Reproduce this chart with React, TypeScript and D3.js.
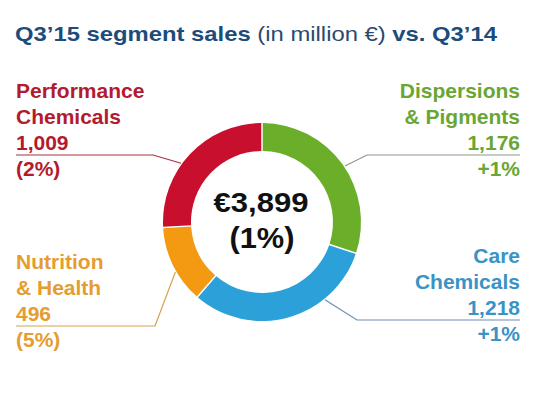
import React from "react";
import * as d3 from "d3";

const segments = ["Dispersions & Pigments", "Care Chemicals", "Nutrition & Health", "Performance Chemicals"];
const labelLine1 = ["Dispersions", "Care", "Nutrition", "Performance"];
const labelLine2 = ["& Pigments", "Chemicals", "& Health", "Chemicals"];
const sales = [1176, 1218, 496, 1009];
const changes = ["+1%", "+1%", "(5%)", "(2%)"];
const totalLabel = "€3,899";
const totalChange = "(1%)";

const ringColors = ["#6AAE2A", "#2CA0D8", "#F39A12", "#C8102E"];
const textColors = ["#6AA632", "#3A93C4", "#E59C30", "#B41A2E"];
const lineColors = ["#8C9A84", "#6E8CB4", "#D6A050", "#A8303E"];

// layout for each label: side, baseline of first line, knee x, leader angle (deg from top)
const labelLayout = [
  { side: "right", base: 98, kneeX: 367, angle: 56 },
  { side: "right", base: 263, kneeX: 357, angle: 141 },
  { side: "left", base: 269, kneeX: 155, angle: 240 },
  { side: "left", base: 98, kneeX: 153, angle: 306 },
];

const W = 553;
const H = 395;
const cx = 262;
const cy = 222;
const rOuter = 99;
const rInner = 71;

export default function App() {
  const pie = d3.pie<number>().sort(null).value((d) => d).padAngle(0.012);
  const arcs = pie(sales);
  const arcGen = d3.arc<d3.PieArcDatum<number>>().innerRadius(rInner).outerRadius(rOuter);
  const fmt = d3.format(",");

  const fs = 21;
  const lh = 26;

  return (
    <svg
      width={W}
      height={H}
      style={{ position: "absolute", left: 0, top: 0, background: "#fff" }}
      fontFamily="'Liberation Sans', Arial, sans-serif"
    >
      <rect width={W} height={H} fill="#fff" />
      <text x={15} y={41} fontSize={20.5} fill="#1C4C7C" textLength={482} lengthAdjust="spacingAndGlyphs">
        <tspan fontWeight="bold">Q3’15 segment sales </tspan>
        <tspan fill="#2A4A6E">(in million €) </tspan>
        <tspan fontWeight="bold">vs. Q3’14</tspan>
      </text>

      <g transform={`translate(${cx},${cy})`}>
        {arcs.map((a, i) => (
          <path key={segments[i]} d={arcGen(a) || ""} fill={ringColors[i]} />
        ))}
      </g>

      {arcs.map((a, i) => {
        const L = labelLayout[i];
        const ang = (L.angle * Math.PI) / 180;
        const sx = cx + Math.sin(ang) * (rOuter + 1);
        const sy = cy - Math.cos(ang) * (rOuter + 1);
        const lineY = L.base + 2 * lh + 5;
        const endX = L.side === "right" ? 520 : 16;
        return (
          <polyline
            key={"l" + i}
            points={`${sx},${sy} ${L.kneeX},${lineY} ${endX},${lineY}`}
            fill="none"
            stroke={lineColors[i]}
            strokeWidth={1.2}
          />
        );
      })}

      {sales.map((v, i) => {
        const L = labelLayout[i];
        const x = L.side === "right" ? 520 : 16;
        const anchor = L.side === "right" ? "end" : "start";
        const lines = [labelLine1[i], labelLine2[i], fmt(v)];
        return (
          <text key={"t" + i} x={x} textAnchor={anchor} fontSize={fs} fontWeight="bold" fill={textColors[i]}>
            {lines.map((t, j) => (
              <tspan key={j} x={x} y={L.base + j * lh}>
                {t}
              </tspan>
            ))}
            <tspan x={x} y={L.base + 2 * lh + 26}>
              {changes[i]}
            </tspan>
          </text>
        );
      })}

      <text x={cx - 1} y={212} textAnchor="middle" fontSize={28} fontWeight="bold" fill="#111" textLength={95} lengthAdjust="spacingAndGlyphs">
        {totalLabel}
      </text>
      <text x={cx} y={248} textAnchor="middle" fontSize={30} fontWeight="bold" fill="#111" textLength={65} lengthAdjust="spacingAndGlyphs">
        {totalChange}
      </text>
    </svg>
  );
}
